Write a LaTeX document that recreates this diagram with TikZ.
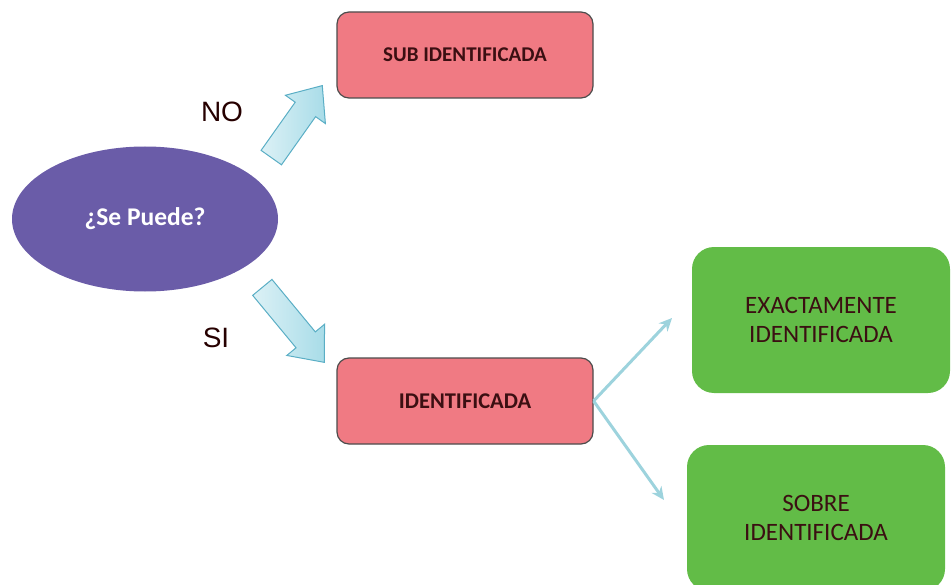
\documentclass[tikz,border=0pt]{standalone}
\usepackage{fontspec}
\setmainfont{Carlito}
\newfontfamily\arialfont{Liberation Sans}
\usetikzlibrary{shapes.geometric,shapes.arrows,arrows.meta,calc}
\definecolor{morado}{HTML}{6A5CA8}
\definecolor{rosa}{HTML}{F07A83}
\definecolor{verde}{HTML}{62BC47}
\definecolor{celeste}{HTML}{A8DCE8}
\definecolor{celesteborde}{HTML}{5AAEC5}
\definecolor{lineacel}{HTML}{9DD3DD}
\definecolor{granate}{HTML}{3B0F12}
\tikzset{
	caja/.style={draw=black!70,line width=1.2pt,fill=rosa,rounded corners=12pt,minimum width=256pt,minimum height=86pt,text=granate,font=\bfseries\fontsize{21}{24}\selectfont},
	cajaverde/.style={fill=verde,rounded corners=22pt,minimum width=258pt,minimum height=146pt,text=granate,align=center,font=\fontsize{25}{29}\selectfont},
	flecha/.style={single arrow,draw=celesteborde,line width=1pt,left color=celeste!40,right color=celeste,inner sep=0pt,inner ysep=12pt,minimum width=48pt,single arrow head extend=12pt,single arrow tip angle=80},
	etiqueta/.style={text=black!85!red,font=\arialfont\fontsize{28}{30}\selectfont},
	linea/.style={draw=lineacel,line width=3pt,-{Stealth[length=13pt,width=12pt]}}
}
\begin{document}
\begin{tikzpicture}[x=1pt,y=-1pt]
	\useasboundingbox (0,0) rectangle (952,585);

	\node[ellipse,fill=morado,minimum width=266pt,minimum height=145pt,inner sep=0pt,text=white,font=\bfseries\fontsize{25.5}{28}\selectfont] (puede) at (145,219) {¿Se Puede?};
	\node[caja] (sub) at (465,55) {SUB IDENTIFICADA};
	\node[caja,font=\bfseries\fontsize{22.5}{26}\selectfont] (ident) at (465,401) {IDENTIFICADA};
	\node[cajaverde] (exacta) at (821,320) {EXACTAMENTE\\IDENTIFICADA};
	\node[cajaverde] (sobre) at (816,518) {SOBRE\\IDENTIFICADA};

	\node[etiqueta] (no) at (222,112) {NO};
	\node[etiqueta] (si) at (216,338) {SI};

	\coordinate (noCola) at (271,158);
	\coordinate (noPunta) at (322,86);
	\coordinate (siCola) at (262,287);
	\coordinate (siPunta) at (324,362);
	\path let \p1=($(noPunta)-(noCola)$) in node[flecha,anchor=tail,rotate={atan2(\y1,\x1)},minimum height={veclen(\x1,\y1)}] (noFlecha) at (noCola) {};
	\path let \p1=($(siPunta)-(siCola)$) in node[flecha,anchor=tail,rotate={atan2(\y1,\x1)},minimum height={veclen(\x1,\y1)}] (siFlecha) at (siCola) {};

	\coordinate (exPunta) at (672,318);
	\coordinate (soPunta) at (664,500);
	\draw[linea] (ident.east) -- (exPunta);
	\draw[linea] (ident.east) -- (soPunta);
\end{tikzpicture}
\end{document}
